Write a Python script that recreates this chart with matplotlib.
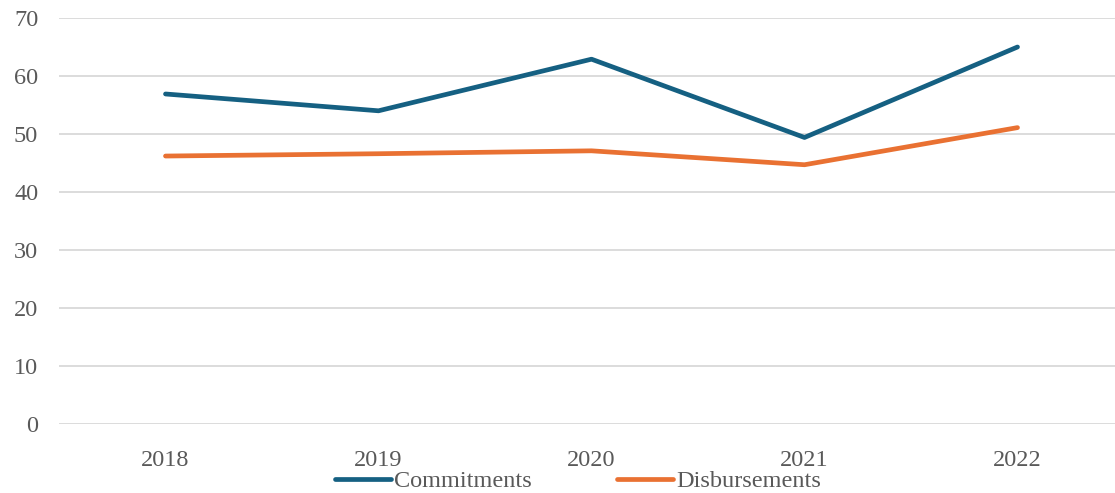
import matplotlib
matplotlib.use("Agg")
import matplotlib.pyplot as plt

years = ["2018", "2019", "2020", "2021", "2022"]
commitments = [56.9, 54.0, 62.9, 49.4, 65.0]
disbursements = [46.2, 46.6, 47.1, 44.7, 51.1]
yticks = [0, 10, 20, 30, 40, 50, 60, 70]

plt.rcParams['font.family'] = ['Liberation Serif', 'DejaVu Serif']

fig = plt.figure(figsize=(11.15, 4.93), dpi=100)
ax = fig.add_axes([59/1115, 69/493, 1065/1115, 406/493])
x = range(len(years))
ax.plot(x, commitments, color="#156082", lw=3.4, solid_capstyle="round", solid_joinstyle="round", label="Commitments")
ax.plot(x, disbursements, color="#E97132", lw=3.4, solid_capstyle="round", solid_joinstyle="round", label="Disbursements")
ax.set_xlim(-0.5, 4.5)
ax.set_ylim(0, 70)
ax.set_yticks(yticks)
ax.set_xticks(list(x))
ax.set_xticklabels(years)
ax.grid(axis="y", color="#d9d9d9", lw=1.3)
ax.set_axisbelow(True)
for s in ax.spines.values():
    s.set_visible(False)
ax.tick_params(length=0, labelsize=17.5, colors="#595959")
ax.tick_params(axis="x", pad=19)
ax.tick_params(axis="y", pad=15)
leg = ax.legend(loc="center", bbox_to_anchor=(578/1115, 12/493), bbox_transform=fig.transFigure,
                ncol=2, frameon=False, fontsize=17.5, handlelength=2.3, handletextpad=0.15,
                columnspacing=3.5, labelcolor="#595959", borderpad=0)
fig.savefig("out.png", dpi=100)
